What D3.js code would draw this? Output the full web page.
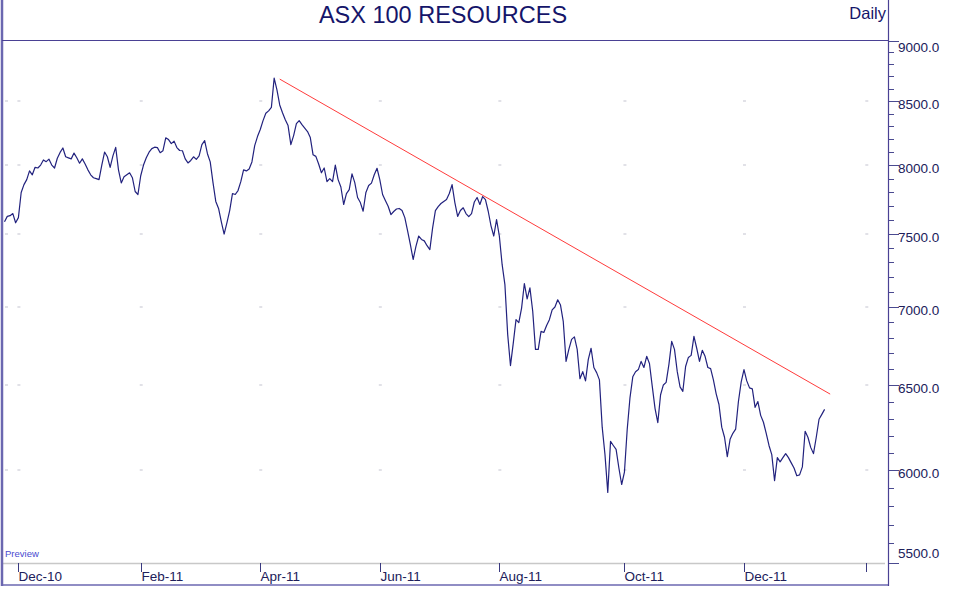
<!DOCTYPE html>
<html><head><meta charset="utf-8">
<script src="https://cdn.jsdelivr.net/npm/d3@7"></script>
<style>html,body{margin:0;padding:0;background:#fff;} svg{display:block;font-family:"Liberation Sans",Arial,Helvetica,sans-serif;}</style>
</head><body><svg id="c" width="956" height="590"></svg>
<script>
const chartTitle = "ASX 100 RESOURCES";
const periodLabel = "Daily";
const watermark = "Preview";
const startDate = "2010-11-24"; // first trading day of the series (weekday index 0)
const closes = [
7585,7624,7629,7644,7578,7615,7798,7856,7893,7958,7929,7985,7980,8002,8041,8028,8047,8002,7980,8054,
8098,8132,8065,8057,8049,8093,8057,8016,8049,8010,7966,7929,7907,7900,7893,8002,8101,8065,7985,8072,
8137,7966,7868,7914,7929,7944,7907,7805,7783,7922,8002,8057,8100,8127,8138,8135,8096,8111,8210,8197,
8166,8185,8135,8113,8111,8049,8018,8037,8065,8045,8072,8158,8189,8088,8026,7871,7732,7681,7585,7498,
7578,7666,7790,7783,7812,7878,7966,7958,7973,8026,8150,8220,8275,8345,8403,8422,8450,8686,8591,8469,
8407,8352,8306,8158,8228,8321,8345,8314,8286,8259,8212,8080,8068,8010,7944,7980,7878,7900,7878,8002,
7893,7838,7710,7790,7819,7936,7871,7761,7724,7661,7798,7849,7867,7929,7978,7893,7783,7739,7697,7637,
7659,7677,7681,7666,7615,7520,7423,7320,7411,7484,7460,7450,7416,7389,7542,7666,7695,7717,7732,7746,
7790,7856,7724,7624,7666,7686,7644,7622,7644,7728,7761,7710,7768,7746,7661,7556,7484,7600,7484,7286,
7149,6821,6623,6763,6916,6897,6992,7156,7053,7127,6973,6725,6725,6840,6833,6878,6916,6980,6999,7047,
7012,6903,6649,6725,6789,6805,6725,6541,6585,6528,6662,6732,6611,6579,6534,6249,6089,5876,6166,6142,
6119,6013,5920,5990,6237,6426,6553,6585,6598,6649,6611,6681,6636,6496,6361,6276,6443,6503,6519,6630,
6776,6725,6585,6491,6464,6617,6674,6687,6808,6732,6649,6719,6681,6611,6604,6534,6449,6384,6249,6190,
6078,6178,6213,6237,6402,6522,6598,6528,6485,6479,6367,6402,6319,6278,6213,6142,6089,5941,6072,6048,
6072,6095,6072,6042,6013,5969,5974,6019,6225,6190,6131,6095,6190,6296,6325,6355
];
const trendDates = ["2011-04-12", "2012-01-13"];
const trendValues = [8678, 6447];
const monthTickDates = ["2010-12-01","2011-02-01","2011-04-01","2011-06-01","2011-08-01","2011-10-03","2011-12-01","2012-02-01"];
const monthTickLabels = ["Dec-10","Feb-11","Apr-11","Jun-11","Aug-11","Oct-11","Dec-11",""];
const yMajorTicks = [5500,6000,6500,7000,7500,8000,8500,9000];
const yMinorTicks = [5600,5700,5800,5900,6100,6200,6300,6400,6600,6700,6800,6900,7100,7200,7300,7400,7600,7700,7800,7900,8100,8200,8300,8400,8600,8700,8800,8900];

const svg = d3.select("#c");
const parse = d3.timeParse("%Y-%m-%d");
const fmt = d3.timeFormat("%Y-%m-%d");
const tradingDays = d3.timeDay.range(parse(startDate), parse("2012-03-01"))
  .filter(d => d.getDay() !== 0 && d.getDay() !== 6);
const dayIndex = new Map(tradingDays.map((d, i) => [fmt(d), i]));
const data = closes.map((v, i) => ({ i, date: tradingDays[i], v }));

const plot = { left: 3, right: 888, top: 40.5, bottom: 563 };
const x = d3.scaleLinear()
  .domain([dayIndex.get("2010-12-01"), dayIndex.get("2012-02-01")])
  .range([18.4, 866.3]);
const y = d3.scaleLog().domain([5500, 9000]).range([562.5, 40.5]);

const frameCol = "#4a4194";
const navy = "#22227e";

svg.append("defs").append("clipPath").attr("id", "clip")
  .append("rect").attr("x", plot.left).attr("y", plot.top)
  .attr("width", plot.right - plot.left).attr("height", plot.bottom - plot.top);

// grid dots at intersections
const gridG = svg.append("g");
monthTickDates.forEach(d => {
  const gx = x(dayIndex.get(d));
  yMajorTicks.slice(1, -1).forEach(v => {
    gridG.append("rect").attr("x", gx - 1).attr("y", Math.round(y(v)) - 0.5)
      .attr("width", 3).attr("height", 1).attr("fill", "#c4c4d0");
  });
});
yMajorTicks.slice(1, -1).forEach(v => {
  gridG.append("rect").attr("x", 5).attr("y", Math.round(y(v)) - 0.5)
    .attr("width", 3).attr("height", 1).attr("fill", "#c4c4d0");
});

// x axis (grey baseline + dark ticks)
svg.append("line").attr("x1", plot.left).attr("x2", plot.right - 3)
  .attr("y1", 563.5).attr("y2", 563.5).attr("stroke", "#c8c8c8").attr("stroke-width", 1.5);
const xt = svg.append("g");
monthTickDates.forEach((d, k) => {
  const tx = Math.round(x(dayIndex.get(d))) + 0.5;
  xt.append("line").attr("x1", tx).attr("x2", tx).attr("y1", 563).attr("y2", 572)
    .attr("stroke", "#3a3a80").attr("stroke-width", 1);
  xt.append("text").attr("x", tx).attr("y", 580.5).attr("font-size", 13.5)
    .attr("fill", "#20205a").text(monthTickLabels[k]);
});

// right y axis
const yt = svg.append("g");
yMinorTicks.forEach(v => {
  const ty = Math.round(y(v)) + 0.5;
  yt.append("line").attr("x1", 888).attr("x2", 894).attr("y1", ty).attr("y2", ty)
    .attr("stroke", "#4a4a90");
});
yMajorTicks.forEach(v => {
  const ty = Math.round(y(v)) + 0.5;
  yt.append("line").attr("x1", 888).attr("x2", 899).attr("y1", ty).attr("y2", ty)
    .attr("stroke", "#4a4a90");
  const ly = Math.min(Math.max(ty + 7, 52), 558);
  yt.append("text").attr("x", 898).attr("y", ly).attr("font-size", 13.5)
    .attr("fill", "#20205a").text(d3.format(".1f")(v));
});

// series line
const line = d3.line().x(d => x(d.i)).y(d => y(d.v));
svg.append("path").datum(data).attr("clip-path", "url(#clip)")
  .attr("d", line).attr("fill", "none").attr("stroke", navy).attr("stroke-width", 1.2)
  .attr("stroke-linejoin", "round");

// trend line
const trend = trendDates.map((d, k) => ({ i: dayIndex.get(d), v: trendValues[k] }));
svg.append("path").datum(trend).attr("clip-path", "url(#clip)")
  .attr("d", line).attr("fill", "none").attr("stroke", "#ff3b3b").attr("stroke-width", 1);

// frame
svg.append("line").attr("x1", 2).attr("x2", 2).attr("y1", 0).attr("y2", 586)
  .attr("stroke", "#6b67b0").attr("stroke-width", 2.5);
svg.append("line").attr("x1", 1).attr("x2", 889).attr("y1", 585).attr("y2", 585)
  .attr("stroke", "#6b67b0").attr("stroke-width", 1.5);
svg.append("line").attr("x1", 888.5).attr("x2", 888.5).attr("y1", 0).attr("y2", 586)
  .attr("stroke", frameCol).attr("stroke-width", 1.2);
svg.append("line").attr("x1", 2).attr("x2", 888).attr("y1", 40.5).attr("y2", 40.5)
  .attr("stroke", frameCol).attr("stroke-width", 1.2);

// texts
svg.append("text").attr("x", 443).attr("y", 23).attr("text-anchor", "middle")
  .attr("font-size", 23.5).attr("fill", "#15156a").text(chartTitle);
svg.append("text").attr("x", 886).attr("y", 19).attr("text-anchor", "end")
  .attr("font-size", 16.5).attr("fill", "#15156a").text(periodLabel);
svg.append("text").attr("x", 5).attr("y", 557).attr("font-size", 9.5)
  .attr("fill", "#4a4ad0").text(watermark);
</script></body></html>
